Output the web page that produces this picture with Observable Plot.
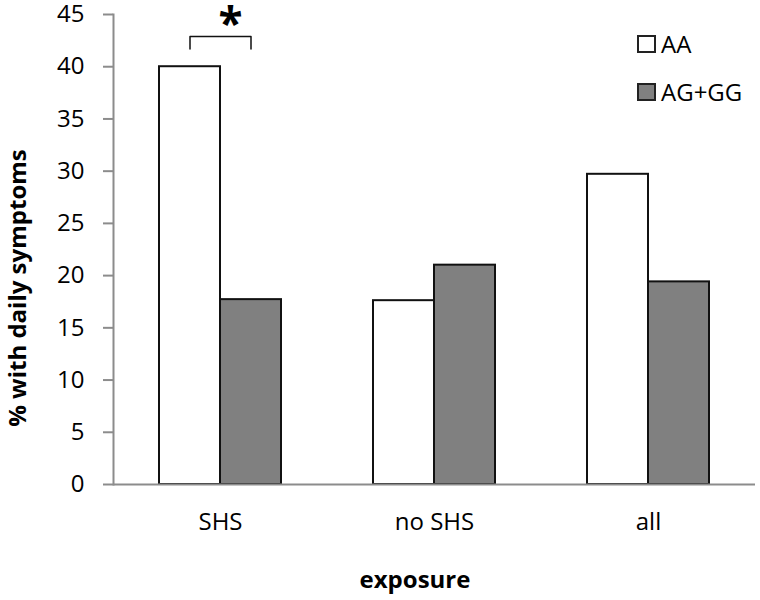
<!DOCTYPE html>
<html>
<head>
<meta charset="utf-8">
<script src="https://cdn.jsdelivr.net/npm/d3@7"></script>
<script src="https://cdn.jsdelivr.net/npm/@observablehq/plot@0.6"></script>
<style>
  html, body { margin: 0; padding: 0; background: #fff; }
  #wrap { position: relative; width: 760px; height: 600px; font-family: "Open Sans", sans-serif; overflow: hidden; }
  .leg { position: absolute; display: flex; align-items: center; font-size: 24px; color: #000; line-height: 1; }
  .sw { width: 15px; height: 14px; border: 2px solid #222; margin-right: 5px; box-sizing: content-box; }
  #ylab { position: absolute; left: 17px; top: 288px; transform: translate(-50%, -50%) rotate(-90deg);
    white-space: nowrap; font-weight: bold; font-size: 24px; line-height: 1; }
</style>
</head>
<body>
<div id="wrap"></div>
<script>
const exposures = ["SHS", "no SHS", "all"];
const genotypes = ["AA", "AG+GG"];
const aaValues = [40.0, 17.6, 29.7];
const aggValues = [17.7, 21.0, 19.4];
const genotypeColors = ["#ffffff", "#808080"];
const yTicks = [0, 5, 10, 15, 20, 25, 30, 35, 40, 45];
const yLabel = "% with daily symptoms";
const xLabel = "exposure";
const sigExposure = "SHS";
const bracketLow = 41.7;
const bracketHigh = 42.9;
const sigText = "*";

const data = [];
exposures.forEach((e, i) => {
  data.push({exposure: e, genotype: "AA", value: aaValues[i]});
  data.push({exposure: e, genotype: "AG+GG", value: aggValues[i]});
});
const bracket = [
  {exposure: sigExposure, genotype: genotypes[0], y: bracketLow},
  {exposure: sigExposure, genotype: genotypes[0], y: bracketHigh},
  {exposure: sigExposure, genotype: genotypes[1], y: bracketHigh},
  {exposure: sigExposure, genotype: genotypes[1], y: bracketLow}
];

const chart = Plot.plot({
  width: 760,
  height: 600,
  marginLeft: 112,
  marginRight: 4,
  marginTop: 14,
  marginBottom: 116,
  style: {fontFamily: "Open Sans, sans-serif", fontSize: "24px", color: "#000", background: "#fff", overflow: "visible"},
  fx: {domain: exposures, padding: 0},
  x: {domain: genotypes, paddingInner: 0, paddingOuter: 0.74, axis: null},
  y: {domain: [0, 45]},
  color: {domain: genotypes, range: genotypeColors},
  marks: [
    Plot.barY(data, {fx: "exposure", x: "genotype", y: "value", fill: "genotype", stroke: "#111", strokeWidth: 2}),
    Plot.ruleY([0], {stroke: "#8c8c8c", strokeWidth: 2}),
    Plot.frame({anchor: "left", facetAnchor: "left", stroke: "#8c8c8c", strokeWidth: 2}),
    Plot.axisY({ticks: yTicks, tickSize: 10, tickPadding: 19, stroke: "#8c8c8c", strokeWidth: 2, fontSize: 24, label: null}),
    Plot.axisFx({anchor: "bottom", tickSize: 0, tickPadding: 28, fontSize: 24, label: null}),
    Plot.line(bracket, {fx: "exposure", x: "genotype", y: "y", stroke: "#111", strokeWidth: 1.5}),
    Plot.text([sigText], {fx: () => sigExposure, text: d => d, frameAnchor: "top", dx: 10, dy: -7, fontSize: 44, fontWeight: "bold"})
  ]
});

const wrap = document.getElementById("wrap");
wrap.appendChild(chart);

// y title
const yl = document.createElement("div");
yl.id = "ylab";
yl.textContent = yLabel;
wrap.appendChild(yl);

// x title
const xt = document.createElement("div");
xt.textContent = xLabel;
Object.assign(xt.style, {position: "absolute", left: "0", width: "830px", top: "562px", textAlign: "center", fontWeight: "bold", fontSize: "24px"});
wrap.appendChild(xt);

// legend
genotypes.forEach((g, i) => {
  const item = document.createElement("div");
  item.className = "leg";
  item.style.left = "637px";
  item.style.top = (32 + i * 48) + "px";
  const sw = document.createElement("span");
  sw.className = "sw";
  sw.style.background = genotypeColors[i];
  const lab = document.createElement("span");
  lab.textContent = g;
  item.appendChild(sw);
  item.appendChild(lab);
  wrap.appendChild(item);
});
</script>
</body>
</html>
